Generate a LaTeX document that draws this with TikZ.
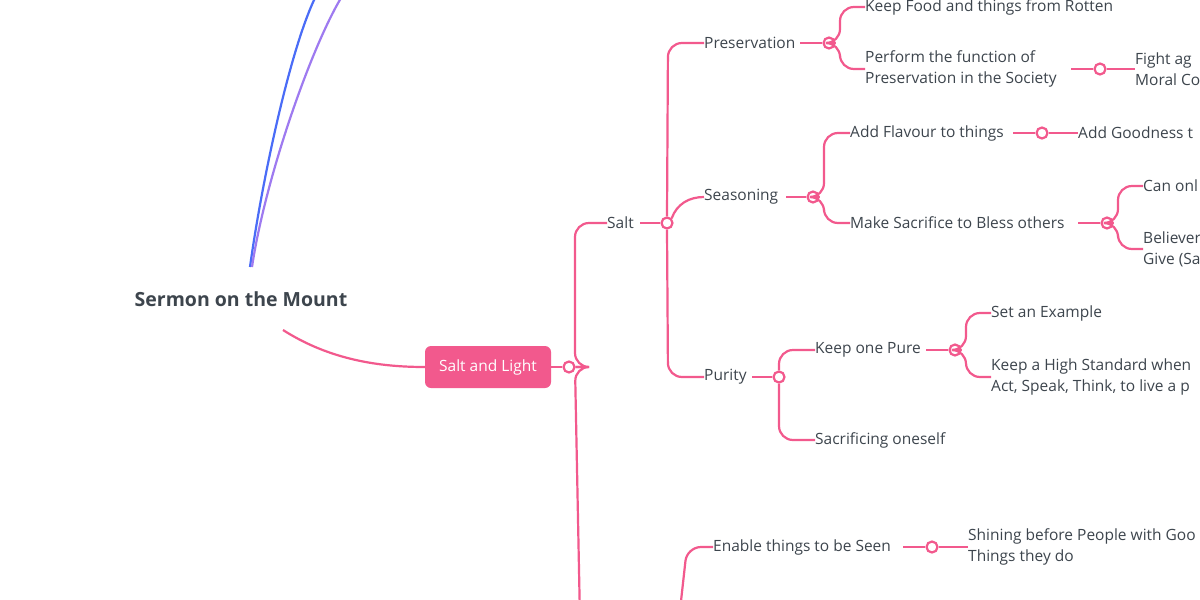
\documentclass[tikz,border=0pt]{standalone}
\usepackage{fontspec}
\setmainfont{Open Sans}
\begin{document}
\begin{tikzpicture}[x=1pt,y=-1pt,
  t/.style={anchor=west,inner sep=0pt,text=txt,font=\fontsize{15.5}{21}\selectfont,align=left},
  dot/.style={circle,draw=pk,line width=2.2pt,fill=white,inner sep=0pt,minimum size=11pt},
  ln/.style={draw=pk,line width=2.2pt,rounded corners=14pt},
  pl/.style={draw=pk,line width=2.2pt}]
\definecolor{pk}{HTML}{F2598D}
\definecolor{txt}{HTML}{3D454D}
\definecolor{bl}{HTML}{4A6CF7}
\definecolor{pu}{HTML}{9E7AF0}
\path[use as bounding box] (0,0) rectangle (1200,600);
\clip (0,0) rectangle (1200,600);
\fill[white] (0,0) rectangle (1200,600);
\node[t,anchor=center,font=\fontsize{19.5}{24}\selectfont\bfseries] (root) at (241,299) {Sermon on the Mount};
\coordinate (b1) at (315,-2); \coordinate (b2) at (341,-2);
\coordinate (r1) at (250,267); \coordinate (r2) at (252,267);
\draw[bl,line width=2.2pt] (r1) .. controls (262,180) and (290,50) .. (b1);
\draw[pu,line width=2.2pt] (r2) .. controls (265,180) and (310,50) .. (b2);
\node[fill=pk,rounded corners=6pt,minimum width=126pt,minimum height=42pt,text=white,font=\fontsize{15.5}{20}\selectfont] (sl) at (488,367) {Salt and Light};
\coordinate (rs) at (283,330);
\draw[pl] (rs) .. controls (330,360) and (380,367) .. (sl.west);
\node[dot] (c0) at (569,367) {};
\draw[pl] (sl.east) -- (c0);
% Salt
\node[t] (salt) at (607,223) {Salt};
\coordinate (light) at (580,620);
\draw[ln] (c0.east) -- (575,367) -- (575,223) -- (salt.west);
\draw[ln] (c0.east) -- (575,367) -- (light);
\node[dot] (c1) at (667,223) {};
\draw[pl] ([xshift=-20pt]c1.west) -- (c1);
\node[t] (pres) at (704,43) {Preservation};
\node[t] (seas) at (704,197) {Seasoning};
\node[t] (pur) at (704,377) {Purity};
\draw[ln] (c1.north) -- (668,43) -- (pres.west);
\draw[pl] (c1.north east) to[out=70,in=180] (seas.west);
\draw[ln] (c1.south) -- (668,377) -- (pur.west);
% Preservation
\node[dot] (c2) at (829,43) {};
\draw[pl] ([xshift=-22pt]c2.west) -- (c2);
\node[t] (kf) at (865,7) {Keep Food and things from Rotten};
\node[t] (pf) at (865,69) {Perform the function of\\Preservation in the Society};
\draw[ln] (c2.east) -- (840,43) -- (840,7) -- (kf.west);
\draw[ln] (c2.east) -- (840,43) -- (840,69) -- (pf.west);
\node[dot] (c3) at (1100,69) {};
\draw[pl] ([xshift=-22pt]c3.west) -- (c3);
\node[t] (fa) at (1135,69) {Fight ag\\Moral Co};
\draw[pl] (c3) -- (fa.west);
% Seasoning
\node[dot] (c4) at (813,197) {};
\draw[pl] ([xshift=-20pt]c4.west) -- (c4);
\node[t] (af) at (850,133) {Add Flavour to things};
\node[t] (ms) at (850,223) {Make Sacrifice to Bless others};
\draw[ln] (c4.east) -- (824,197) -- (824,133) -- (af.west);
\draw[ln] (c4.east) -- (824,197) -- (824,223) -- (ms.west);
\node[dot] (c5) at (1042,133) {};
\draw[pl] ([xshift=-22pt]c5.west) -- (c5);
\node[t] (ag) at (1078,133) {Add Goodness t};
\draw[pl] (c5) -- (ag.west);
\node[dot] (c6) at (1107,223) {};
\draw[pl] ([xshift=-22pt]c6.west) -- (c6);
\node[t] (co) at (1143,186) {Can onl};
\node[t] (bg) at (1143,249) {Believer\\Give (Sa};
\draw[ln] (c6.east) -- (1118,223) -- (1118,186) -- (co.west);
\draw[ln] (c6.east) -- (1118,223) -- (1118,249) -- (bg.west);
% Purity
\node[dot] (c7) at (779,377) {};
\draw[pl] ([xshift=-20pt]c7.west) -- (c7);
\node[t] (kp) at (815,350) {Keep one Pure};
\node[t] (so) at (815,440) {Sacrificing oneself};
\draw[ln] (c7.north) -- (779,350) -- (kp.west);
\draw[ln] (c7.south) -- (779,440) -- (so.west);
\node[dot] (c8) at (955,350) {};
\draw[pl] ([xshift=-22pt]c8.west) -- (c8);
\node[t] (se) at (991,313) {Set an Example};
\node[t] (kh) at (991,377) {Keep a High Standard when\\Act, Speak, Think, to live a p};
\draw[ln] (c8.east) -- (966,350) -- (966,313) -- (se.west);
\draw[ln] (c8.east) -- (966,350) -- (966,377) -- (kh.west);
% Light
\node[t] (en) at (713,547) {Enable things to be Seen};
\coordinate (lb) at (680,610);
\draw[ln] (lb) -- (687,547) -- (en.west);
\node[dot] (c9) at (932,547) {};
\draw[pl] ([xshift=-22pt]c9.west) -- (c9);
\node[t] (sh) at (968,547) {Shining before People with Goo\\Things they do};
\draw[pl] (c9) -- (sh.west);
\end{tikzpicture}
\end{document}
